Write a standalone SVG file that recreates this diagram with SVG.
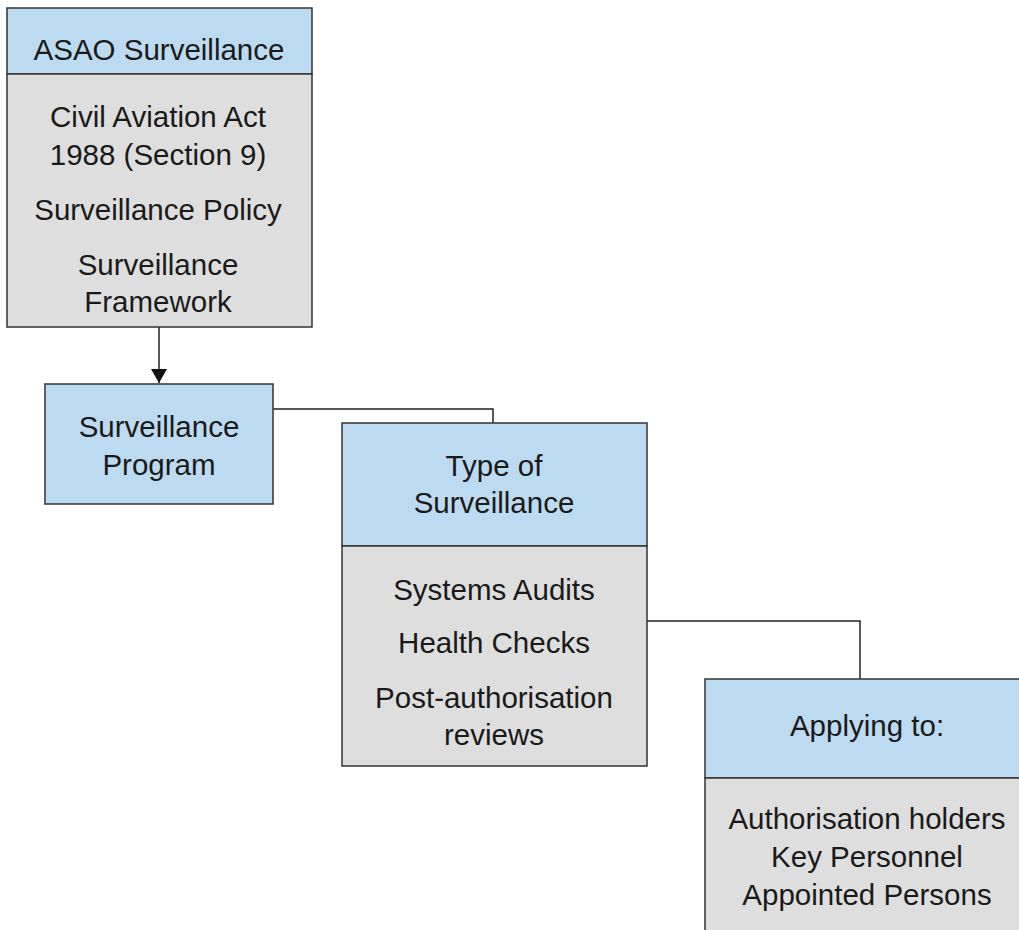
<svg xmlns="http://www.w3.org/2000/svg" width="1019" height="930" viewBox="0 0 1019 930">
<style>
.hd{fill:#bddbf0;stroke:#333;stroke-width:1.5}
.bd{fill:#dedede;stroke:#333;stroke-width:1.5}
.t{font-family:"Liberation Sans",Arial,sans-serif;font-size:29.5px;fill:#1a1a1a;text-anchor:middle}
.c{fill:none;stroke:#222;stroke-width:1.5}
</style>
<defs>
<marker id="arr" markerWidth="14" markerHeight="16" refX="14" refY="8" orient="auto" markerUnits="userSpaceOnUse">
<path d="M0,0 L14,8 L0,16 Z" fill="#111"/>
</marker>
</defs>
<rect width="1019" height="930" fill="#fff"/>
<g id="connectors">
<path class="c" d="M159,327 V383" marker-end="url(#arr)"/>
<path class="c" d="M273,409 H493 V423"/>
<path class="c" d="M647,621 H860 V680"/>
</g>
<g id="asao">
<rect class="hd" x="7" y="8" width="305" height="66"/>
<rect class="bd" x="7" y="74" width="305" height="253"/>
<text class="t" x="159" y="60">ASAO Surveillance</text>
<text class="t" x="158" y="127">Civil Aviation Act</text>
<text class="t" x="158" y="165">1988 (Section 9)</text>
<text class="t" x="158" y="220">Surveillance Policy</text>
<text class="t" x="158" y="275">Surveillance</text>
<text class="t" x="158" y="312">Framework</text>
</g>
<g id="program">
<rect class="hd" x="45" y="384" width="228" height="120"/>
<text class="t" x="159" y="437">Surveillance</text>
<text class="t" x="159" y="475">Program</text>
</g>
<g id="type">
<rect class="hd" x="342" y="423" width="305" height="123"/>
<rect class="bd" x="342" y="546" width="305" height="220"/>
<text class="t" x="494" y="476">Type of</text>
<text class="t" x="494" y="513">Surveillance</text>
<text class="t" x="494" y="600">Systems Audits</text>
<text class="t" x="494" y="653">Health Checks</text>
<text class="t" x="494" y="708">Post-authorisation</text>
<text class="t" x="494" y="745">reviews</text>
</g>
<g id="applying">
<rect class="hd" x="705" y="679" width="330" height="99"/>
<rect class="bd" x="705" y="778" width="330" height="170"/>
<text class="t" x="867" y="736">Applying to:</text>
<text class="t" x="867" y="829">Authorisation holders</text>
<text class="t" x="867" y="867">Key Personnel</text>
<text class="t" x="867" y="905">Appointed Persons</text>
</g>
</svg>
